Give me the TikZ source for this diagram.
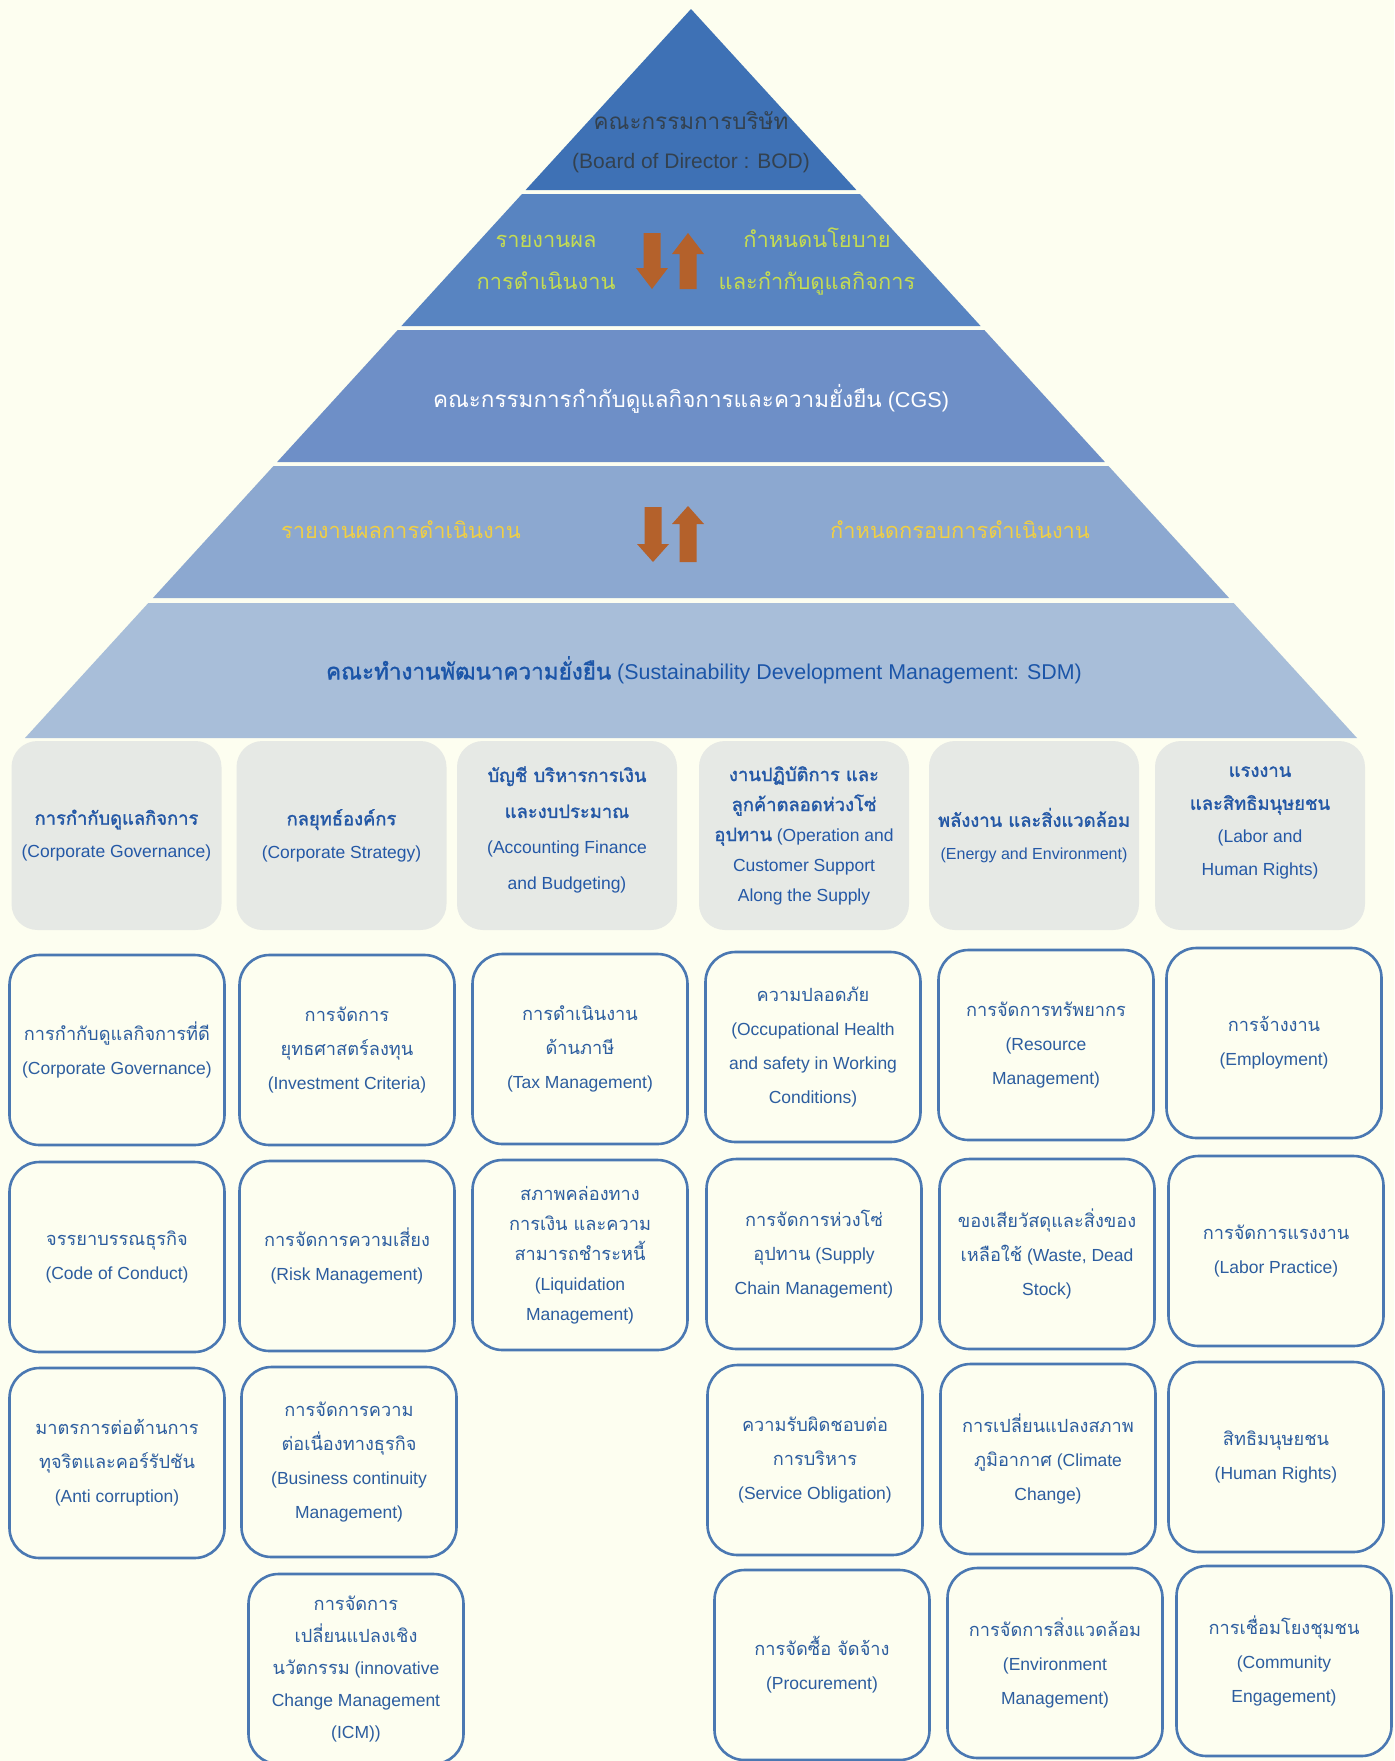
\documentclass[tikz,border=0pt]{standalone}
\usepackage{fontspec}
\setmainfont{Liberation Sans}
\newfontfamily\thaifont[Script=Thai,Scale=1.04]{Loma}
\newfontfamily\thaibold[Script=Thai,Scale=1.05,FakeBold=1.5]{Loma}
\newcommand{\T}[1]{{\thaifont #1}}
\newcommand{\TB}[1]{{\thaibold #1}}
\definecolor{bgc}{HTML}{FDFEF0}
\definecolor{bandA}{HTML}{3E71B5}
\definecolor{bandB}{HTML}{5884C1}
\definecolor{bandC}{HTML}{6E8FC7}
\definecolor{bandD}{HTML}{8CA8D0}
\definecolor{bandE}{HTML}{A8BED9}
\definecolor{arrc}{HTML}{B4612B}
\definecolor{catfill}{HTML}{E6E9E5}
\definecolor{boxline}{HTML}{4A78B2}
\definecolor{txtblue}{HTML}{2C5D9F}
\definecolor{cattxt}{HTML}{2458A6}
\definecolor{limec}{HTML}{C5DC52}
\definecolor{goldc}{HTML}{F0CF45}
\definecolor{bodtxt}{HTML}{33414F}
\definecolor{sdmtxt}{HTML}{1B55A8}
\newcommand{\DArr}[4]{\fill[arrc] (#1-8.5,#2) -- (#1+8.5,#2) -- (#1+8.5,#3) -- (#1+16,#3) -- (#1,#4) -- (#1-16,#3) -- (#1-8.5,#3) -- cycle;}
\newcommand{\UArr}[4]{\fill[arrc] (#1-8.5,#2) -- (#1+8.5,#2) -- (#1+8.5,#3) -- (#1+16,#3) -- (#1,#4) -- (#1-16,#3) -- (#1-8.5,#3) -- cycle;}
\begin{document}
\begin{tikzpicture}[x=0.5pt,y=-0.5pt,
  itembox/.style={draw=boxline, line width=1.3pt, rounded corners=15pt, fill=bgc,
    minimum width=107.5pt, minimum height=95pt, align=center, text=txtblue,
    font=\fontsize{8.75}{17}\selectfont, inner sep=2pt},
  catbox/.style={fill=catfill, rounded corners=13pt, minimum width=105pt,
    minimum height=94.5pt, align=center, text=cattxt,
    font=\fontsize{8.75}{16.5}\selectfont, inner sep=2pt},
  cattext/.style={align=center, text=cattxt, inner sep=0pt,
    font=\fontsize{8.75}{16.5}\selectfont},
  bandtext/.style={align=center, inner sep=0pt}
]
\fill[bgc] (0,0) rectangle (1394,1761);
\useasboundingbox (0,0) rectangle (1394,1761);

% pyramid bands
\fill[bandA] (691,9) -- (856.4,190) -- (525.6,190) -- cycle;
\fill[bandB] (522,194) -- (860,194) -- (980.6,326) -- (401.4,326) -- cycle;
\fill[bandC] (397.7,330) -- (984.3,330) -- (1104.9,462) -- (277.1,462) -- cycle;
\fill[bandD] (273.5,466) -- (1108.5,466) -- (1229.1,598) -- (152.9,598) -- cycle;
\fill[bandE] (148.3,603) -- (1233.7,603) -- (1357,738) -- (25,738) -- cycle;

% band 1
\node[bandtext, text=bodtxt, font=\fontsize{10.8}{10.8}\selectfont] (bodth) at (691,121) {\T{คณะกรรมการบริษัท}};
\node[bandtext, text=bodtxt, font=\fontsize{10.5}{10.5}\selectfont] (boden) at (691,163) {(Board of Director : BOD)};

% band 2
\node[bandtext, text=limec, font=\fontsize{10.5}{21}\selectfont] (rep1) at (546,262) {\T{รายงานผล}\\\T{การดำเนินงาน}};
\node[bandtext, text=limec, font=\fontsize{10.5}{21}\selectfont] (pol1) at (817,262) {\T{กำหนดนโยบาย}\\\T{และกำกับดูแลกิจการ}};
\DArr{652}{233}{268}{289}
\UArr{688}{289}{254}{233}

% band 3
\node[bandtext, text=white, font=\fontsize{10.8}{10.8}\selectfont] (cgs) at (691,399) {\T{คณะกรรมการกำกับดูแลกิจการและความยั่งยืน} (CGS)};

% band 4
\node[bandtext, text=goldc, font=\fontsize{10.5}{10.5}\selectfont] (rep2) at (401,530) {\T{รายงานผลการดำเนินงาน}};
\node[bandtext, text=goldc, font=\fontsize{10.5}{10.5}\selectfont] (pol2) at (960,530) {\T{กำหนดกรอบการดำเนินงาน}};
\DArr{653}{507}{544}{562}
\UArr{688}{562}{524}{506}

% band 5
\node[bandtext, text=sdmtxt, font=\fontsize{10.7}{10.7}\selectfont] (sdm) at (704,670) {\TB{คณะทำงานพัฒนาความยั่งยืน} (Sustainability Development Management: SDM)};

% category boxes
\node[catbox] (cat1) at (116.5,835.5) {\TB{การกำกับดูแลกิจการ}\\(Corporate Governance)};
\node[catbox] (cat2) at (341.5,835.5) {\TB{กลยุทธ์องค์กร}\\(Corporate Strategy)};
\node[catbox, minimum width=110pt] (cat3) at (567,835.5) {};
\node[cattext, font=\fontsize{8.75}{18}\selectfont] (cat3t) at (567,830) {\TB{บัญชี บริหารการเงิน}\\\TB{และงบประมาณ}\\(Accounting Finance\\and Budgeting)};
\node[catbox, font=\fontsize{8.75}{15}\selectfont] (cat4) at (804,835.5) {\TB{งานปฏิบัติการ และ}\\\TB{ลูกค้าตลอดห่วงโซ่}\\\TB{อุปทาน} (Operation and\\Customer Support\\Along the Supply};
\node[catbox] (cat5) at (1034,835.5) {\TB{พลังงาน และสิ่งแวดล้อม}\\{\fontsize{8}{16}\selectfont(Energy and Environment)}};
\node[catbox] (cat6) at (1260,835.5) {};
\node[cattext] (cat6t) at (1260,823) {\TB{แรงงาน}\\\TB{และสิทธิมนุษยชน}\\(Labor and\\Human Rights)};

% row 1
\node[itembox] (a1) at (117,1050) {\T{การกำกับดูแลกิจการที่ดี}\\(Corporate Governance)};
\node[itembox] (a2) at (347,1050) {\T{การจัดการ}\\\T{ยุทธศาสตร์ลงทุน}\\(Investment Criteria)};
\node[itembox] (a3) at (580,1049) {\T{การดำเนินงาน}\\\T{ด้านภาษี}\\(Tax Management)};
\node[itembox] (a4) at (813,1047) {\T{ความปลอดภัย}\\(Occupational Health\\and safety in Working\\Conditions)};
\node[itembox] (a5) at (1046,1045) {\T{การจัดการทรัพยากร}\\(Resource\\Management)};
\node[itembox] (a6) at (1274,1043) {\T{การจ้างงาน}\\(Employment)};

% row 2
\node[itembox] (b1) at (117,1257) {\T{จรรยาบรรณธุรกิจ}\\(Code of Conduct)};
\node[itembox] (b2) at (347,1256) {\T{การจัดการความเสี่ยง}\\(Risk Management)};
\node[itembox, font=\fontsize{8.75}{15}\selectfont] (b3) at (580,1255) {\T{สภาพคล่องทาง}\\\T{การเงิน และความ}\\\T{สามารถชำระหนี้}\\(Liquidation\\Management)};
\node[itembox] (b4) at (814,1254) {\T{การจัดการห่วงโซ่}\\\T{อุปทาน} (Supply\\Chain Management)};
\node[itembox] (b5) at (1047,1254) {\T{ของเสียวัสดุและสิ่งของ}\\\T{เหลือใช้} (Waste, Dead\\Stock)};
\node[itembox] (b6) at (1276,1251) {\T{การจัดการแรงงาน}\\(Labor Practice)};

% row 3
\node[itembox] (c1) at (117,1463) {\T{มาตรการต่อต้านการ}\\\T{ทุจริตและคอร์รัปชัน}\\(Anti corruption)};
\node[itembox] (c2) at (349,1462) {\T{การจัดการความ}\\\T{ต่อเนื่องทางธุรกิจ}\\(Business continuity\\Management)};
\node[itembox] (c4) at (815,1460) {\T{ความรับผิดชอบต่อ}\\\T{การบริหาร}\\(Service Obligation)};
\node[itembox] (c5) at (1048,1459) {\T{การเปลี่ยนแปลงสภาพ}\\\T{ภูมิอากาศ} (Climate\\Change)};
\node[itembox] (c6) at (1276,1457) {\T{สิทธิมนุษยชน}\\(Human Rights)};

% row 4
\node[itembox, font=\fontsize{8.75}{16}\selectfont] (d2) at (356,1669) {\T{การจัดการ}\\\T{เปลี่ยนแปลงเชิง}\\\T{นวัตกรรม} (innovative\\Change Management\\(ICM))};
\node[itembox] (d4) at (822,1665) {\T{การจัดซื้อ จัดจ้าง}\\(Procurement)};
\node[itembox] (d5) at (1055,1663) {\T{การจัดการสิ่งแวดล้อม}\\(Environment\\Management)};
\node[itembox] (d6) at (1284,1661) {\T{การเชื่อมโยงชุมชน}\\(Community\\Engagement)};
\end{tikzpicture}
\end{document}
